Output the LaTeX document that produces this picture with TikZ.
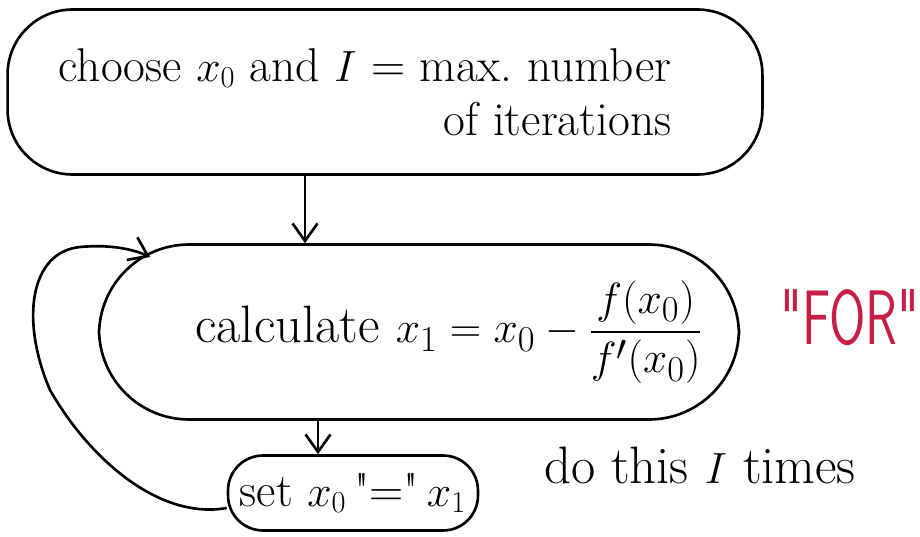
\documentclass[tikz,border=0pt]{standalone}
\usepackage{amsmath,amssymb}
\usepackage{tikz}
\usetikzlibrary{arrows.meta, positioning, calc}
\usepackage{xcolor}
\definecolor{forred}{RGB}{200,30,70}

\begin{document}
\begin{tikzpicture}[x=0.02cm, y=-0.02cm, every node/.style={font=\fontsize{30}{36}\selectfont},
    blob/.style={draw, line width=1.5pt, rounded corners=1.3cm, align=center},
    flow/.style={line width=1.5pt, -{Straight Barb[length=3.5mm, width=5mm]}}]
        \useasboundingbox (0,0) rectangle (920,537);
        % Start: initial guess
        \node[blob, align=right, font=\fontsize{27}{31}\selectfont,
              minimum width=15.1cm, minimum height=3.3cm]
          (start) at (385, 92) {choose $x_0$ and $I$ = max.\ number\hspace*{0.8cm}\\
          of iterations\hspace*{0.8cm}};
        % Newton step
        \node[blob, rounded corners=1.8cm, minimum width=12.8cm, minimum height=3.5cm]
          (newton) at (419, 332) {\hspace*{1.2cm}calculate
          $x_1 = x_0 - \dfrac{f(x_0)}{f'(x_0)}$};
        % Update
        \node[blob, rounded corners=0.7cm, minimum width=5cm, minimum height=1.5cm,
              inner sep=2pt, font=\fontsize{27}{30}\selectfont]
          (update) at (353, 493) {set $x_0$\,\textquotedbl=\textquotedbl\,$x_1$};
        % Side notes
        \node[font=\fontsize{44}{46}\selectfont\sffamily, text=forred]
          (fornote) at (850, 318) {\scalebox{0.68}[1]{\textquotedbl FOR\textquotedbl}};
        \node (times) at (700, 465) {do this $I$ times};
        % Arrows
        \draw[flow] ([xshift=-1.6cm]start.south)
          -- ([xshift=-1.6cm]start.south |- newton.north);
        \draw[flow] ([xshift=-0.7cm]update.north |- newton.south)
          -- ([xshift=-0.7cm]update.north);
        % Loop back
        \coordinate (loopin) at (150, 257);
        \draw[flow] ([yshift=-0.3cm]update.west) .. controls (160, 520) and (90, 460) .. (50, 390)
          .. controls (20, 320) and (30, 252) .. (80, 247)
          .. controls (112, 244) and (135, 250) .. (loopin);
      \end{tikzpicture}
\end{document}
